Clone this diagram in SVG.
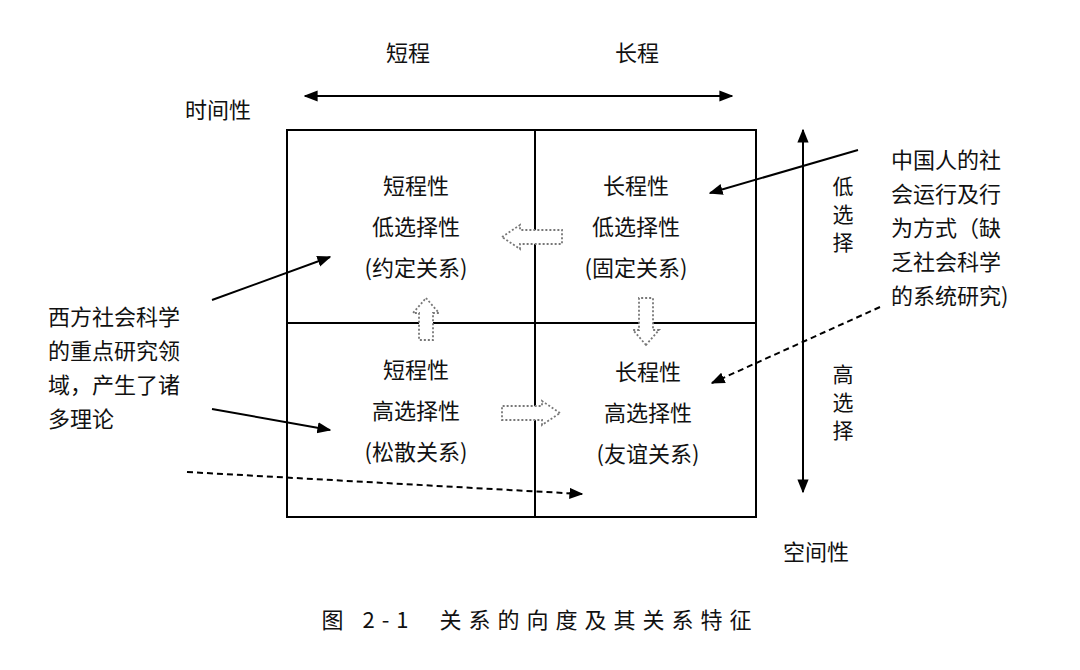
<svg xmlns="http://www.w3.org/2000/svg" width="1080" height="670" viewBox="0 0 1080 670">
<defs>
<marker id="ah" viewBox="0 0 10 10" refX="9" refY="5" markerWidth="7" markerHeight="7" orient="auto-start-reverse"><path d="M0,1 L10,5 L0,9 Z" fill="#000"/></marker>
</defs>
<style>
text{font-family:"Noto Sans CJK SC","Noto Sans",sans-serif;font-size:22px;fill:#111}
.c{text-anchor:middle}
.v{font-size:21px}
.l{stroke:#000;stroke-width:2;fill:none}
.h{stroke:#777;stroke-width:1.8;stroke-dasharray:2 2;fill:#fff}
.cap{font-family:"Noto Sans CJK SC",serif;font-size:22px;letter-spacing:7px}
</style>
<rect width="1080" height="670" fill="#fff"/>
<g id="grid">
<rect x="287" y="130" width="469" height="387" class="l"/>
<line x1="535" y1="130" x2="535" y2="517" class="l"/>
<line x1="287" y1="323" x2="756" y2="323" class="l"/>
</g>
<g id="q1"><text class="c" x="416" y="194">短程性</text><text class="c" x="416" y="235">低选择性</text><text class="c" x="416" y="276">(约定关系)</text></g>
<g id="q2"><text class="c" x="636" y="194">长程性</text><text class="c" x="636" y="235">低选择性</text><text class="c" x="636" y="276">(固定关系)</text></g>
<g id="q3"><text class="c" x="416" y="378">短程性</text><text class="c" x="416" y="419">高选择性</text><text class="c" x="416" y="460">(松散关系)</text></g>
<g id="q4"><text class="c" x="648" y="380">长程性</text><text class="c" x="648" y="421">高选择性</text><text class="c" x="648" y="462">(友谊关系)</text></g>
<g id="labels">
<text class="c" x="408" y="61">短程</text>
<text class="c" x="637" y="61">长程</text>
<text x="185" y="118">时间性</text>
<text x="783" y="560">空间性</text>
<text class="c v" x="843" y="194">低</text><text class="c v" x="843" y="222">选</text><text class="c v" x="843" y="250">择</text>
<text class="c v" x="843" y="382">高</text><text class="c v" x="843" y="410">选</text><text class="c v" x="843" y="438">择</text>
<text x="891" y="168">中国人的社</text><text x="891" y="202">会运行及行</text><text x="891" y="236">为方式（缺</text><text x="891" y="270">乏社会科学</text><text x="891" y="304">的系统研究)</text>
<text x="48" y="325">西方社会科学</text><text x="48" y="359">的重点研究领</text><text x="48" y="393">域，产生了诸</text><text x="48" y="427">多理论</text>
<text class="c cap" x="540" y="628" xml:space="preserve">图 2-1  关系的向度及其关系特征</text>
</g>
<g id="connectors">
<line x1="305" y1="96" x2="732" y2="96" class="l" marker-start="url(#ah)" marker-end="url(#ah)"/>
<line x1="803" y1="130" x2="803" y2="492" class="l" marker-start="url(#ah)" marker-end="url(#ah)"/>
<line x1="858" y1="150" x2="710" y2="193" class="l" marker-end="url(#ah)"/>
<line x1="880" y1="307" x2="712" y2="383" class="l" stroke-dasharray="6 4" marker-end="url(#ah)"/>
<line x1="212" y1="300" x2="330" y2="257" class="l" marker-end="url(#ah)"/>
<line x1="212" y1="409" x2="330" y2="430" class="l" marker-end="url(#ah)"/>
<line x1="187" y1="472" x2="582" y2="494" class="l" stroke-dasharray="6 4" marker-end="url(#ah)"/>
<path class="h" d="M502,237 L520,225 L520,230 L562,230 L562,244 L520,244 L520,249 Z"/>
<path class="h" d="M560,413 L542,401 L542,406 L502,406 L502,420 L542,420 L542,425 Z"/>
<path class="h" d="M426,298 L439,313 L433,313 L433,340 L419,340 L419,313 L413,313 Z"/>
<path class="h" d="M646,345 L633,330 L639,330 L639,298 L653,298 L653,330 L659,330 Z"/>
</g>
</svg>
